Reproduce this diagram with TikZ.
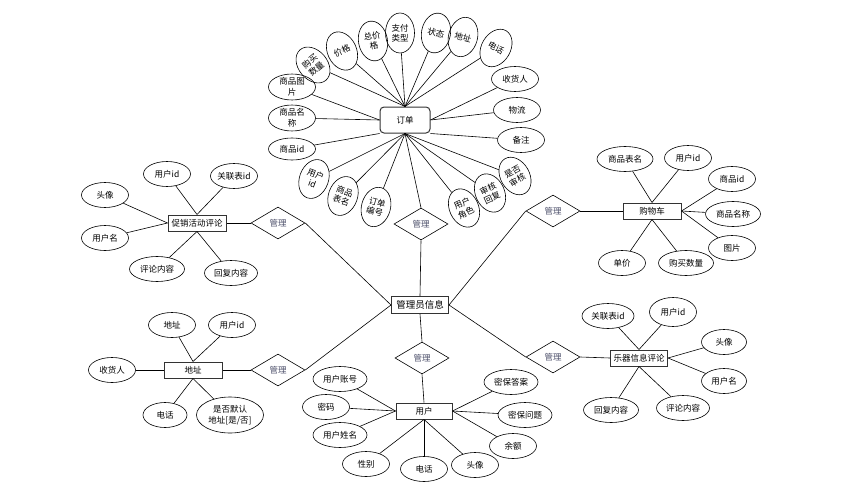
\documentclass[tikz,border=0pt]{standalone}
\usepackage{fontspec}
\setmainfont{Noto Sans CJK SC}
\usetikzlibrary{shapes.geometric}
\definecolor{relText}{RGB}{75,78,105}

\begin{document}
\begin{tikzpicture}[x=1pt,y=-1pt,line width=0.6pt,font=\fontsize{8.5}{10.5}\selectfont,
  entity/.style={rectangle,draw=black!80,line width=1pt,minimum height=16pt,inner sep=1pt},
  attr/.style={ellipse,draw,minimum width=47pt,minimum height=25pt,inner sep=0pt,align=center},
  tall/.style={ellipse,draw,minimum width=29pt,minimum height=40pt,inner sep=0pt,align=center,
    font=\fontsize{8.5}{10}\selectfont},
  rel/.style={diamond,draw,minimum width=54pt,minimum height=32pt,inner sep=0pt,text=relText}]

  \useasboundingbox (0,0) rectangle (850,495);

  \node[entity,rounded corners=4pt,minimum width=50pt,minimum height=26pt] (order) at (405,120) {订单};
  \node[entity,minimum width=57pt,minimum height=17pt,font=\fontsize{9.5}{11}\selectfont] (admin) at (420,305) {管理员信息};
  \node[entity,minimum width=58pt] (promo) at (197,223) {促销活动评论};
  \node[entity,minimum width=58pt] (cart) at (652,211) {购物车};
  \node[entity,minimum width=58pt] (addr) at (193,370) {地址};
  \node[entity,minimum width=56pt] (user) at (424,411) {用户};
  \node[entity,minimum width=57pt] (review) at (639,358) {乐器信息评论};

  \node[rel] (r1) at (278,223) {管理};
  \node[rel] (r2) at (421,224) {管理};
  \node[rel] (r3) at (553,211) {管理};
  \node[rel] (r4) at (278,370) {管理};
  \node[rel] (r5) at (422,358) {管理};
  \node[rel] (r6) at (553,357) {管理};

  \node[tall,rotate=40] (o1) at (313,65) {购买\\数量};
  \node[tall,rotate=25] (o2) at (342,51) {价格};
  \node[tall,rotate=10] (o3) at (373,41) {总价\\格};
  \node[tall] (o4) at (400,33) {支付\\类型};
  \node[tall,rotate=-10] (o5) at (436,33) {状态};
  \node[tall,rotate=-15] (o6) at (463,37) {地址};
  \node[tall,rotate=-30] (o7) at (496,48) {电话};
  \node[attr] (o8) at (515,79) {收货人};
  \node[attr] (o9) at (517,110) {物流};
  \node[attr] (o10) at (521,140) {备注};
  \node[attr] (o11) at (292,87) {商品图\\片};
  \node[attr] (o12) at (292,118) {商品名\\称};
  \node[attr,minimum height=22pt] (o13) at (292,149) {商品id};
  \node[tall,rotate=-20] (o14) at (314,179) {用户\\id};
  \node[tall,rotate=-20] (o15) at (343,196) {商品\\表名};
  \node[tall,rotate=-15] (o16) at (376,207) {订单\\编号};
  \node[tall,rotate=25] (o17) at (464,208) {用户\\角色};
  \node[tall,rotate=25] (o18) at (490,193) {审核\\回复};
  \node[tall,rotate=30] (o19) at (515,176) {是否\\审核};

  \node[attr] (p1) at (167,174) {用户id};
  \node[attr] (p2) at (234,176) {关联表id};
  \node[attr] (p3) at (105,195) {头像};
  \node[attr] (p4) at (105,238) {用户名};
  \node[attr,minimum width=55pt] (p5) at (157,269) {评论内容};
  \node[attr,minimum width=53pt] (p6) at (231,273) {回复内容};

  \node[attr,minimum width=56pt] (c1) at (625,159) {商品表名};
  \node[attr] (c2) at (688,158) {用户id};
  \node[attr] (c3) at (732,179) {商品id};
  \node[attr,minimum width=55pt] (c4) at (733,214) {商品名称};
  \node[attr] (c5) at (732,248) {图片};
  \node[attr] (c6) at (622,263) {单价};
  \node[attr,minimum width=55pt] (c7) at (686,263) {购买数量};

  \node[attr] (d1) at (172,325) {地址};
  \node[attr] (d2) at (232,325) {用户id};
  \node[attr] (d3) at (112,370) {收货人};
  \node[attr,minimum width=44pt] (d4) at (165,415) {电话};
  \node[attr,minimum width=67pt,minimum height=36pt] (d5) at (230,415) {是否默认\\地址[是/否]};

  \node[attr,minimum width=52pt] (v1) at (608,316) {关联表id};
  \node[attr,minimum height=29pt] (v2) at (673,312) {用户id};
  \node[attr,minimum width=45pt] (v3) at (724,342) {头像};
  \node[attr,minimum width=45pt] (v4) at (724,381) {用户名};
  \node[attr,minimum width=55pt] (v5) at (611,410) {回复内容};
  \node[attr,minimum width=53pt] (v6) at (683,408) {评论内容};

  \node[attr,minimum width=54pt] (u1) at (340,379) {用户账号};
  \node[attr] (u2) at (326,407) {密码};
  \node[attr,minimum width=54pt] (u3) at (340,435) {用户姓名};
  \node[attr] (u4) at (366,464) {性别};
  \node[attr] (u5) at (424,469) {电话};
  \node[attr] (u6) at (475,465) {头像};
  \node[attr] (u7) at (513,446) {余额};
  \node[attr,minimum width=54pt] (u8) at (525,415) {密保问题};
  \node[attr,minimum width=54pt] (u9) at (511,382) {密保答案};

  \path (order.north) edge (o1) edge (o2) edge (o3) edge (o4)
                      edge (o5) edge (o6) edge (o7)
        (order.east) edge (o8) edge (o9)
        (order.south east) edge (o10)
        (order.west) edge (o11) edge (o12)
        (order.south west) edge (o13)
        (order.south) edge (o14) edge (o15) edge (o16) edge (r2.north)
                      edge (o17) edge (o18) edge (o19);

  \path (r2.south) edge (admin.north)
        (r1.west) edge (promo.east)
        (r1.east) edge (admin.west)
        (r3.west) edge (admin.east)
        (r3.east) edge (cart.west)
        (r4.west) edge (addr.east)
        (r4.east) edge (admin.west)
        (r5.north) edge (admin.south)
        (r5.south) edge (user.north)
        (r6.west) edge (admin.east)
        (r6.east) edge (review.west);

  \path (promo.north) edge (p1) edge (p2)
        (promo.west) edge (p3) edge (p4)
        (promo.south) edge (p5) edge (p6);

  \path (cart.north) edge (c1) edge (c2)
        (cart.east) edge (c3) edge (c4) edge (c5)
        (cart.south) edge (c6) edge (c7);

  \path (addr.north) edge (d1) edge (d2)
        (addr.west) edge (d3)
        (addr.south) edge (d4) edge (d5);

  \path (review.north) edge (v1) edge (v2)
        (review.east) edge (v3) edge (v4)
        (review.south) edge (v5) edge (v6);

  \path (user.west) edge (u1) edge (u2) edge (u3)
        (user.south) edge (u4) edge (u5) edge (u6)
        (user.east) edge (u7) edge (u8) edge (u9);
\end{tikzpicture}
\end{document}
